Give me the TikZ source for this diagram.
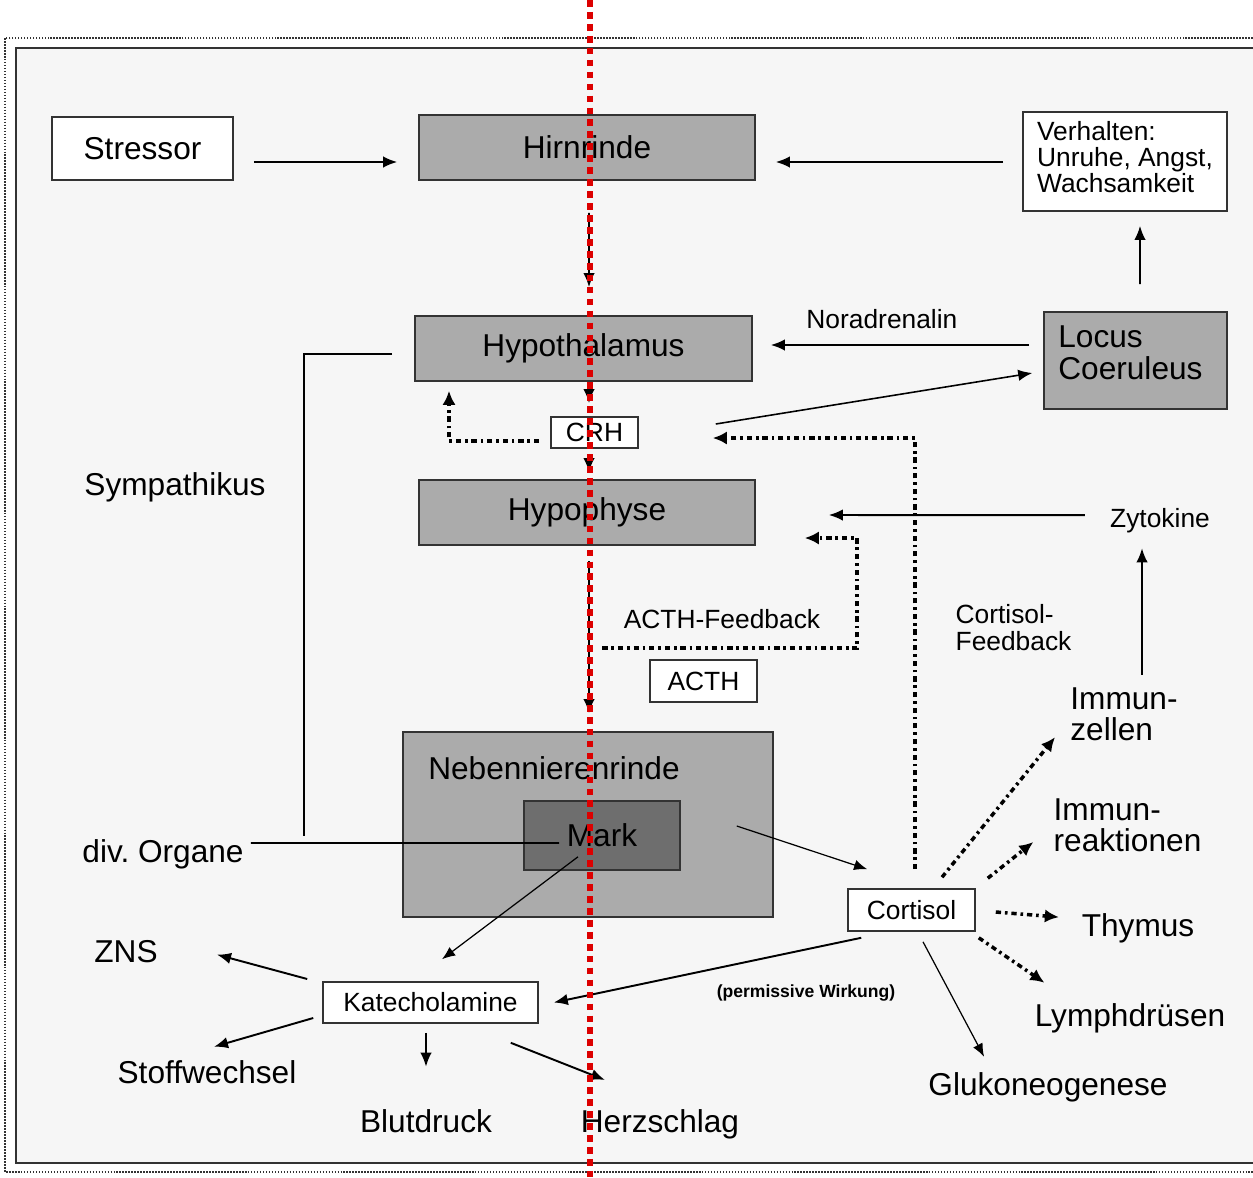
\documentclass[tikz,border=0pt]{standalone}
\usepackage{fontspec}
\setmainfont{Liberation Sans}
\usepackage{xcolor}
\usetikzlibrary{arrows.meta,positioning,calc}
\definecolor{boxgrau}{RGB}{171,171,171}
\definecolor{markgrau}{RGB}{110,110,110}
\definecolor{hintergrund}{RGB}{246,246,246}
\definecolor{rahmen}{RGB}{51,51,51}
\definecolor{rotlinie}{RGB}{220,0,0}

\begin{document}
\begin{tikzpicture}[x=0.02cm, y=-0.02cm,
  gross/.style={font=\fontsize{18}{17.4}\selectfont},
  klein/.style={font=\fontsize{15}{14.7}\selectfont},
  organ/.style={rectangle, draw=rahmen, line width=0.9pt, fill=boxgrau, minimum width=6.72cm, minimum height=1.3cm, gross},
  kasten/.style={rectangle, draw=rahmen, line width=0.9pt, fill=white, klein},
  txt/.style={inner sep=0pt, gross},
  pfeil/.style={-{Latex[length=8pt,width=6.5pt]}, line width=1.1pt},
  duenn/.style={-{Latex[length=7.5pt,width=6pt]}, line width=0.7pt},
  punkt/.style={-{Latex[length=8pt,width=7.5pt]}, line width=2pt, dash pattern=on 3pt off 2.2pt on 1.5pt off 2.2pt},
  linie/.style={line width=1pt}]
				\useasboundingbox (0,0) rectangle (1253,1177);
				% Rahmen
				\draw[rahmen, line width=1.2pt, fill=hintergrund] (16,48) rectangle (1275,1163);
				\draw[rahmen, line width=1pt, dash pattern=on 0.9pt off 0.8pt] (5,38) rectangle (1275,1172);
				
				% Oben
				\node[kasten, gross, minimum width=3.62cm, minimum height=1.26cm] (stressor) at (142.5,148.5) {Stressor};
				\node[organ] (hirnrinde) at (587,147.5) {Hirnrinde};
				\node[kasten, minimum width=4.08cm, minimum height=1.98cm] (verhalten) at (1125,161.5) {};
				\node[txt, klein, align=left] (verhaltentext) at (1125,157) {Verhalten:\\Unruhe, Angst,\\Wachsamkeit};
				
				% Achse
				\node[organ, minimum width=6.74cm] (hypothalamus) at (583.5,348.5) {Hypothalamus};
				\node[organ, minimum width=3.66cm, minimum height=1.94cm] (locus) at (1135.5,360.5) {};
				\node[txt, align=left, font=\fontsize{18}{18}\selectfont, anchor=west] (locustext) at (1058,353) {Locus\\Coeruleus};
				\node[kasten, inner sep=0pt, minimum width=1.74cm, minimum height=0.62cm] (crh) at (594.5,432.5) {CRH};
				\node[organ] (hypophyse) at (587,512.5) {Hypophyse};
				\node[kasten, minimum width=2.14cm, minimum height=0.84cm] (acth) at (703.5,681) {ACTH};
				\node[organ, minimum width=7.4cm, minimum height=3.7cm] (nnr) at (588,824.5) {};
				\node[txt, anchor=base] (nnrtext) at (554,779) {Nebennierenrinde};
				\node[organ, fill=markgrau, minimum width=3.12cm, minimum height=1.38cm] (mark) at (602,835.5) {Mark};
				\node[kasten, minimum width=2.54cm, minimum height=0.84cm] (cortisol) at (911.5,910) {Cortisol};
				\node[kasten, minimum width=4.3cm, minimum height=0.82cm] (kat) at (430.5,1002.5) {Katecholamine};
				
				% Beschriftungen
				\node[txt, anchor=base] (sympathikus) at (175,495) {Sympathikus};
				\node[txt, klein, anchor=base] (zytokine) at (1160,527) {Zytokine};
				\node[txt, klein, anchor=base] (acthfb) at (722,628) {ACTH-Feedback};
				\node[txt, font=\fontsize{15}{15.3}\selectfont, align=left] (cortfb) at (1013.5,627.5) {Cortisol-\\Feedback};
				\node[txt, align=left] (immunzellen) at (1124,714.5) {Immun-\\zellen};
				\node[txt, align=left] (immunreak) at (1127.5,825) {Immun-\\reaktionen};
				\node[txt, anchor=base] (thymus) at (1138,936) {Thymus};
				\node[txt, anchor=base] (lymph) at (1130,1026) {Lymphdrüsen};
				\node[txt, anchor=base] (gluko) at (1048,1095) {Glukoneogenese};
				\node[txt, anchor=base] (divorgane) at (163,862) {div.\ Organe};
				\node[txt, anchor=base] (zns) at (126,962) {ZNS};
				\node[txt, anchor=base] (stoff) at (207,1083) {Stoffwechsel};
				\node[txt, anchor=base] (blutdruck) at (426,1132) {Blutdruck};
				\node[txt, anchor=base] (herz) at (660,1132) {Herzschlag};
				\node[txt, anchor=base, font=\bfseries\fontsize{10}{10}\selectfont] (permissiv) at (806,997) {(permissive Wirkung)};
				
				% Pfeile oben
				\draw[pfeil] ([shift={(20,13.5)}]stressor.east) -- ([shift={(-21,14.5)}]hirnrinde.west);
				\draw[pfeil] ([shift={(-19,0.5)}]verhalten.west) -- ([shift={(20,14.5)}]hirnrinde.east);
				\draw[pfeil] ([shift={(2,32)}]hirnrinde.south) -- ([shift={(5.5,-28)}]hypothalamus.north);
				\draw[pfeil] ([shift={(5.5,7)}]hypothalamus.south) -- ([shift={(-5.5,-13)}]crh.north);
				\draw[pfeil] ([shift={(-5.5,5)}]crh.south) -- ([shift={(2,-7)}]hypophyse.north);
				\draw[pfeil] ([shift={(2,15)}]hypophyse.south) -- ([shift={(1,-18)}]nnr.north);
				
				% Locus Coeruleus
				\draw[pfeil] ([shift={(-14,-15.5)}]locus.west) -- node[txt, klein, above=8.7pt, pos=0.57] (noradrenalin) {Noradrenalin} ([shift={(18,-3.5)}]hypothalamus.east);
				\draw[pfeil] ([shift={(4.5,-27)}]locus.north) -- ([shift={(15,14)}]verhalten.south);
				\draw[pfeil, line width=0.9pt] ([shift={(77,-8.5)}]crh.east) -- ([shift={(-11,12.5)}]locus.west);
				
				% Rueckkopplung
				\draw[punkt] ([shift={(3.5,-19)}]cortisol.north) |- ([shift={(74,5.5)}]crh.east);
				\draw[punkt] ([shift={(-11,8.5)}]crh.west) -| ([shift={(-134.5,9)}]hypothalamus.south);
				\draw[punkt] ([shift={(-47,-11)}]acth.north west) -- ++(255,0) |- ([shift={(49,25.5)}]hypophyse.east);
				\draw[pfeil] ([shift={(-25,-5)}]zytokine.west) -- ([shift={(73,2.5)}]hypophyse.east);
				\draw[pfeil] ([shift={(18,-13)}]immunzellen.north) -- ([shift={(-18,15.4)}]zytokine.south);
				
				% Sympathikus
				\draw[linie] ([shift={(-22,5.5)}]hypothalamus.west) -- ++(-88,0) -- ++(0,482);
				\draw[linie] ([shift={(7,-10.75)}]divorgane.east) -- ([shift={(36,7.5)}]mark.west);
				
				% Nebenniere
				\draw[duenn] ([shift={(56,-9.5)}]mark.east) -- ([shift={(20,-19)}]cortisol.north west);
				\draw[duenn] ([shift={(-24,-14)}]mark.south) -- ([shift={(11.5,-22)}]kat.north);
				
				% Katecholamine
				\draw[pfeil] ([shift={(-15,-23.5)}]kat.west) -- ([shift={(59,3.5)}]zns.east);
				\draw[pfeil] ([shift={(-9,15.5)}]kat.west) -- ([shift={(7,-13)}]stoff.north);
				\draw[pfeil] ([shift={(-4.5,9)}]kat.south) -- ([shift={(0,-42)}]blutdruck.north);
				\draw[pfeil] ([shift={(-28,19)}]kat.south east) -- ([shift={(24.4,-28.8)}]herz.north west);
				
				% Cortisol
				\draw[pfeil] ([shift={(14,6)}]cortisol.south west) -- ([shift={(15,0)}]kat.east);
				\draw[duenn] ([shift={(11.5,10)}]cortisol.south) -- ([shift={(56,-15)}]gluko.north west);
				\draw[punkt] ([shift={(3,6)}]cortisol.south east) -- ([shift={(10,-20)}]lymph.north west);
				\draw[punkt] ([shift={(20,2)}]cortisol.east) -- ([shift={(-22.5,-10.7)}]thymus.west);
				\draw[punkt] ([shift={(12,-10)}]cortisol.north east) -- ([shift={(-20,17)}]immunreak.west);
				\draw[punkt] ([shift={(30.5,-11)}]cortisol.north) -- ([shift={(-15,-4)}]immunzellen.south west);
				
				% rote Linie
				\draw[rotlinie, line width=3pt, dash pattern=on 3.8pt off 3pt] (590,0) -- (590,1177);
			\end{tikzpicture}
\end{document}
